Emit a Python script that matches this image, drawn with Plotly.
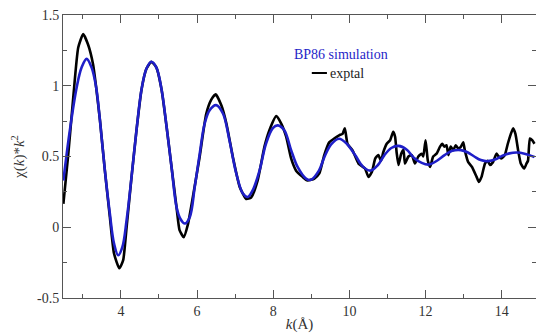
import plotly.graph_objects as go

# Simulation (BP86) curve
sim_k = [2.49, 2.66, 2.84, 2.97, 3.10, 3.23, 3.35, 3.45, 3.58, 3.71, 3.82, 3.93, 4.04, 4.15,
         4.28, 4.41, 4.54, 4.67, 4.80, 4.93, 5.07, 5.20, 5.33, 5.46, 5.56, 5.68, 5.81, 5.94,
         6.07, 6.20, 6.33, 6.50, 6.68, 6.85, 7.03, 7.20, 7.33, 7.46, 7.64, 7.81, 7.99, 8.12,
         8.29, 8.47, 8.64, 8.86, 8.99, 9.20, 9.35, 9.52, 9.73, 9.93, 10.15, 10.35, 10.55,
         10.75, 10.92, 11.10, 11.29, 11.50, 11.70, 11.90, 12.09, 12.30, 12.50, 12.70, 12.93,
         13.10, 13.28, 13.45, 13.64, 13.84, 14.02, 14.20, 14.40, 14.60, 14.86]
sim_chi = [0.33, 0.686, 0.99, 1.13, 1.19, 1.13, 0.99, 0.757, 0.40, 0.097, -0.115, -0.198,
           -0.139, 0.05, 0.356, 0.686, 0.97, 1.12, 1.17, 1.13, 0.97, 0.71, 0.426, 0.144, 0.06,
           0.026, 0.073, 0.285, 0.52, 0.733, 0.827, 0.863, 0.804, 0.615, 0.38, 0.24, 0.214,
           0.26, 0.40, 0.59, 0.70, 0.72, 0.686, 0.545, 0.426, 0.344, 0.335, 0.40, 0.50,
           0.585, 0.625, 0.59, 0.51, 0.43, 0.40, 0.44, 0.51, 0.56, 0.575, 0.55, 0.49, 0.455,
           0.443, 0.47, 0.51, 0.54, 0.545, 0.53, 0.50, 0.475, 0.467, 0.48, 0.505, 0.522,
           0.528, 0.52, 0.497]

# Experimental curve
exp_k = [2.49, 2.62, 2.75, 2.88, 3.01, 3.14, 3.27, 3.35, 3.45, 3.58, 3.71, 3.82, 3.96, 4.06,
         4.15, 4.28, 4.41, 4.54, 4.67, 4.80, 4.93, 5.07, 5.20, 5.33, 5.46, 5.54, 5.65, 5.76,
         5.89, 6.07, 6.24, 6.37, 6.49, 6.64, 6.77, 6.94, 7.12, 7.29, 7.42, 7.59, 7.77, 7.90,
         8.08, 8.21, 8.34, 8.47, 8.60, 8.77, 8.90, 9.08, 9.21, 9.34, 9.47, 9.60, 9.73,
         9.82, 9.88, 9.95, 10.08, 10.24, 10.41, 10.50, 10.59, 10.68, 10.76, 10.83, 10.89, 10.98,
         11.07, 11.15, 11.20, 11.24, 11.29, 11.36, 11.42, 11.46, 11.55, 11.64, 11.72, 11.81,
         11.90, 11.94, 12.00, 12.06, 12.12, 12.20, 12.29, 12.38, 12.44, 12.49, 12.55, 12.60,
         12.66, 12.73, 12.79, 12.86, 12.93, 12.99, 13.03, 13.12, 13.22, 13.34, 13.40, 13.47,
         13.56, 13.63, 13.69, 13.77, 13.86, 13.92, 13.99, 14.08, 14.16, 14.24, 14.30, 14.36,
         14.43, 14.50, 14.59, 14.65, 14.69, 14.74, 14.80, 14.86]
exp_chi = [0.165, 0.52, 0.92, 1.27, 1.365, 1.29, 1.15, 0.99, 0.757, 0.40, 0.073, -0.186, -0.29,
           -0.233, 0.0, 0.356, 0.686, 0.97, 1.12, 1.17, 1.13, 0.97, 0.71, 0.426, 0.144, -0.02,
           -0.07, 0.02, 0.214, 0.50, 0.80, 0.90, 0.94, 0.86, 0.733, 0.497, 0.285, 0.20, 0.21,
           0.33, 0.57, 0.686, 0.785, 0.733, 0.64, 0.486, 0.40, 0.356, 0.33, 0.344, 0.38, 0.51,
           0.60, 0.627, 0.65, 0.66, 0.70, 0.59, 0.545, 0.45, 0.415, 0.356, 0.39, 0.486, 0.51,
           0.47, 0.53, 0.59, 0.615, 0.674, 0.64, 0.53, 0.44, 0.52, 0.545, 0.45, 0.50, 0.51,
           0.45, 0.50, 0.52, 0.50, 0.615, 0.47, 0.426, 0.50, 0.52, 0.57, 0.59, 0.57, 0.58,
           0.51, 0.57, 0.545, 0.58, 0.556, 0.57, 0.60, 0.545, 0.46, 0.426, 0.356, 0.32, 0.356,
           0.45, 0.47, 0.44, 0.46, 0.52, 0.50, 0.486, 0.51, 0.59, 0.66, 0.70, 0.66,
           0.545, 0.45, 0.415, 0.45, 0.47, 0.627, 0.615, 0.59]

x_ticks = [4, 6, 8, 10, 12, 14]
y_ticks = [-0.5, 0, 0.5, 1, 1.5]
y_tick_labels = ["-0.5", "0", "0.5", "1", "1.5"]

BLUE = "#1f1fc8"
FONT = "'Liberation Serif', 'Times New Roman', Times, serif"

fig = go.Figure()
fig.add_trace(go.Scatter(x=exp_k, y=exp_chi, mode="lines", name="exptal",
                         line=dict(color="black", width=2.6, shape="spline", smoothing=0.5)))
fig.add_trace(go.Scatter(x=sim_k, y=sim_chi, mode="lines", name="BP86 simulation",
                         line=dict(color=BLUE, width=2.6, shape="spline", smoothing=1.0)))

axis_common = dict(showline=True, linecolor="#555", linewidth=1, mirror="allticks",
                   ticks="inside", ticklen=8, tickcolor="#555", showgrid=False, zeroline=False,
                   automargin=False,
                   tickfont=dict(family=FONT, size=14, color="#333"))

fig.update_xaxes(range=[2.48, 14.9], tickvals=x_ticks,
                 minor=dict(dtick=1, ticks="inside", ticklen=4, tickcolor="#555"),
                 title=dict(text="<i>k</i>(Å)", font=dict(family=FONT, size=15, color="#333"),
                            standoff=0),
                 **axis_common)
fig.update_yaxes(range=[-0.5, 1.5], tickvals=y_ticks, ticktext=y_tick_labels,
                 minor=dict(dtick=0.25, ticks="inside", ticklen=4, tickcolor="#555"),
                 title=dict(text="χ(<i>k</i>)*<i>k</i><sup>2</sup>",
                            font=dict(family=FONT, size=15, color="#333"), standoff=8),
                 **axis_common)

fig.add_annotation(xref="paper", yref="paper", x=0.484, y=0.862, xanchor="left", yanchor="middle",
                   text="BP86 simulation", showarrow=False,
                   font=dict(family=FONT, size=14, color=BLUE))
fig.add_annotation(xref="paper", yref="paper", x=0.560, y=0.795, xanchor="left", yanchor="middle",
                   text="exptal", showarrow=False,
                   font=dict(family=FONT, size=14, color="#222"))
fig.add_shape(type="line", xref="paper", yref="paper", x0=0.526, x1=0.558, y0=0.795, y1=0.795,
              line=dict(color="black", width=2))

fig.update_layout(width=536, height=334, margin=dict(l=63, r=0, t=15, b=36),
                  plot_bgcolor="white", paper_bgcolor="white", showlegend=False,
                  font=dict(family=FONT))

fig.write_html("out.html", config={"displayModeBar": False},
               post_script="document.body.style.margin='0';document.body.style.overflow='hidden';")
